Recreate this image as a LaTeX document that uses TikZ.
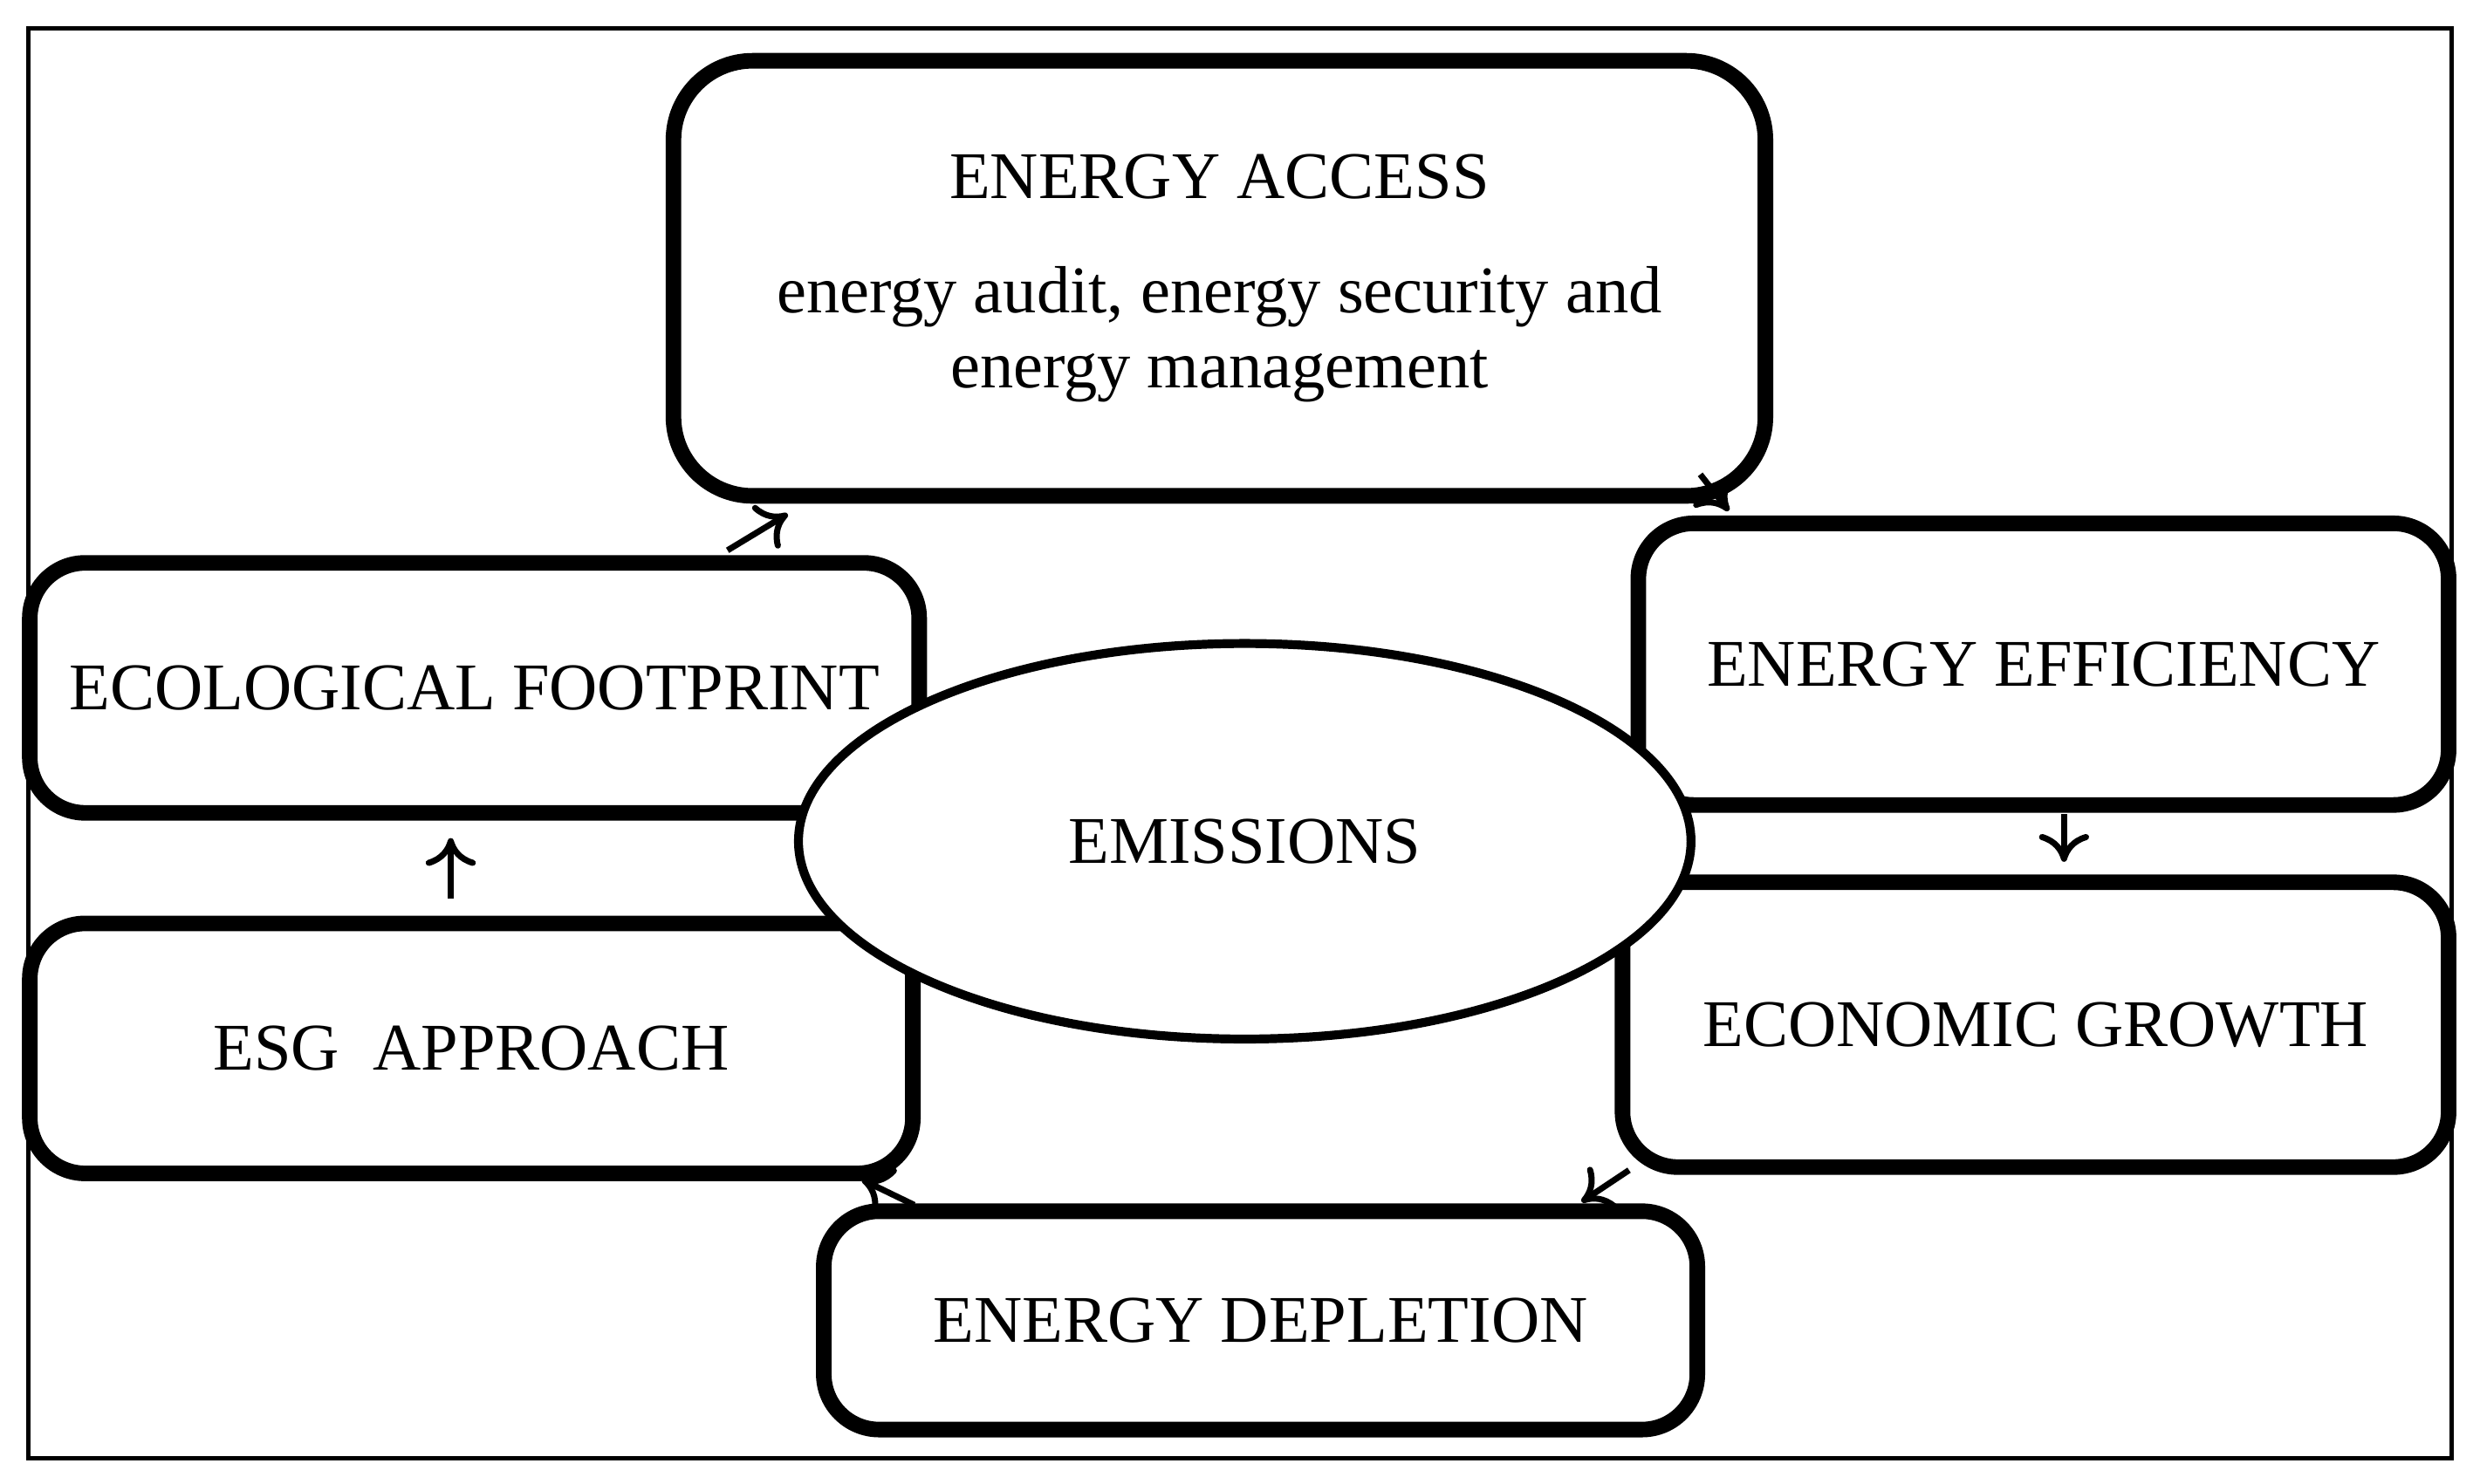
\documentclass[tikz,border=0pt]{standalone}
\usepackage{fontspec}
\setmainfont{Liberation Serif}
\usetikzlibrary{shapes.geometric,arrows.meta}

\begin{document}
\begin{tikzpicture}[
      x=0.01cm, y=-0.01cm,
      box/.style={draw,line width=2.8pt,rounded corners=0.35cm,align=center,
        font=\fontsize{12}{13.5}\selectfont,inner sep=0pt},
      flow/.style={-{To[length=5pt,width=9pt]},line width=1.1pt}
      ]
      \useasboundingbox (0,0) rectangle (1568,938);
      % frame
      \draw[line width=0.8pt] (18,18) rectangle (1550,922);
      % boxes
      \node[box,minimum width=6.9cm,minimum height=2.75cm,rounded corners=0.5cm] (access) at (771,176)
        {ENERGY ACCESS\\[0.25cm]energy audit, energy security and\\energy management};
      \node[box,minimum width=5.62cm,minimum height=1.58cm] (eco) at (300,435) {ECOLOGICAL FOOTPRINT};
      \node[box,minimum width=5.12cm,minimum height=1.78cm] (eff) at (1292,420) {ENERGY EFFICIENCY};
      \node[box,minimum width=5.58cm,minimum height=1.58cm] (esg) at (298,663) {ESG\ \ APPROACH};
      \node[box,minimum width=5.22cm,minimum height=1.8cm] (growth) at (1287,648) {ECONOMIC GROWTH};
      \node[box,minimum width=5.52cm,minimum height=1.38cm] (depl) at (797,835) {ENERGY DEPLETION};
      % centre
      \node[ellipse,draw,line width=1.6pt,fill=white,minimum width=5.64cm,minimum height=2.5cm,
        font=\fontsize{12}{13.5}\selectfont] (emis) at (787,532) {EMISSIONS};
      % arrows
      \coordinate (a1) at (460,348); \coordinate (b1) at (498,325);
      \coordinate (a2) at (1075,300); \coordinate (b2) at (1093,323);
      \coordinate (a3) at (1305,515); \coordinate (b3) at (1305,545);
      \coordinate (a4) at (1030,740); \coordinate (b4) at (1000,760);
      \coordinate (a5) at (578,762);  \coordinate (b5) at (545,746);
      \coordinate (a6) at (285,568);  \coordinate (b6) at (285,530);
      \foreach \i in {1,...,6} {
          \draw[flow] (a\i) -- (b\i);
      }
\end{tikzpicture}
\end{document}
